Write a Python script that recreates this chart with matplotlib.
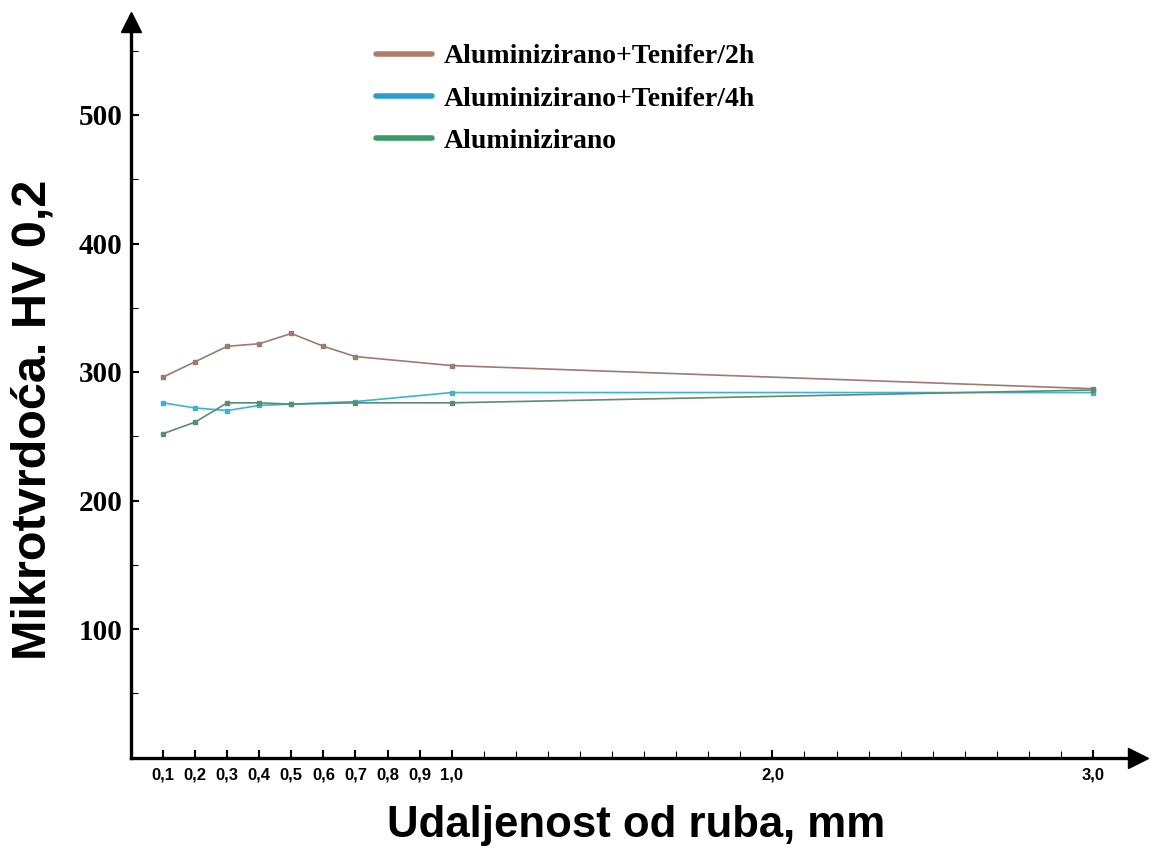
import matplotlib.pyplot as plt
from matplotlib.lines import Line2D

# --------------------------------------------------------------
# Data
# --------------------------------------------------------------
x_2h = [0.1, 0.2, 0.3, 0.4, 0.5, 0.6, 0.7, 1.0, 3.0]
hv_2h = [296, 308, 320, 322, 330, 320, 312, 305, 287]

x_4h = [0.1, 0.2, 0.3, 0.4, 0.5, 0.7, 1.0, 3.0]
hv_4h = [276, 272, 270, 274, 275, 277, 284, 284]

x_al = [0.1, 0.2, 0.3, 0.4, 0.5, 0.7, 1.0, 3.0]
hv_al = [252, 261, 276, 276, 275, 276, 276, 286]

labels = ["Aluminizirano+Tenifer/2h", "Aluminizirano+Tenifer/4h", "Aluminizirano"]
line_colors = ["#9c7b70", "#3fb3cc", "#5b8c74"]
legend_colors = ["#b07c6c", "#2b9ccf", "#3a9a68"]

major_x = [0.1, 0.2, 0.3, 0.4, 0.5, 0.6, 0.7, 0.8, 0.9, 1.0, 2.0, 3.0]
major_x_labels = ["0,1", "0,2", "0,3", "0,4", "0,5", "0,6", "0,7", "0,8", "0,9", "1,0", "2,0", "3,0"]
minor_x = [1.1, 1.2, 1.3, 1.4, 1.5, 1.6, 1.7, 1.8, 1.9,
           2.1, 2.2, 2.3, 2.4, 2.5, 2.6, 2.7, 2.8, 2.9]
major_y = [100, 200, 300, 400, 500]
minor_y = [50, 150, 250, 350, 450, 550]

# --------------------------------------------------------------
# Figure
# --------------------------------------------------------------
W, H = 1152, 852
fig = plt.figure(figsize=(W / 100, H / 100), dpi=100)
left, right, bottom, top = 131, 1138, 757.5, 22
ax = fig.add_axes([left / W, 1 - bottom / H, (right - left) / W, (bottom - top) / H])

ax.set_xlim(0, (right - left) / 320.7)
ax.set_ylim(0, (bottom - top) / 1.285)

for xs, ys, c in zip([x_2h, x_4h, x_al], [hv_2h, hv_4h, hv_al], line_colors):
    ax.plot(xs, ys, color=c, lw=1.2, marker="s", ms=3.5, mfc=c, mec=c)

# axes look: only left / bottom, thick, with arrow heads
for s in ["top", "right"]:
    ax.spines[s].set_visible(False)
for s in ["left", "bottom"]:
    ax.spines[s].set_linewidth(2.4)
ax.plot(1.0, 0, marker=">", ms=14, color="black", transform=ax.transAxes, clip_on=False)
ax.plot(0, 1.0, marker="^", ms=14, color="black", transform=ax.transAxes, clip_on=False)

ax.set_xticks(major_x)
ax.set_xticklabels(major_x_labels, fontfamily="Liberation Sans", fontweight="bold", fontsize=12)
ax.set_xticks(minor_x, minor=True)
ax.set_yticks(major_y)
ax.set_yticklabels([str(v) for v in major_y], fontfamily="Liberation Serif",
                   fontweight="bold", fontsize=21)
ax.set_yticks(minor_y, minor=True)
ax.tick_params(axis="both", which="major", direction="in", length=6, width=1.5)
ax.tick_params(axis="both", which="minor", direction="in", length=5, width=0.8)
ax.tick_params(axis="x", which="major", pad=7)
ax.tick_params(axis="y", which="major", pad=6)

fig.text(33 / W, 1 - 420 / H, "Mikrotvrdoća. HV 0,2", rotation=90, ha="center", va="center",
         fontfamily="Liberation Sans", fontweight="bold", fontsize=35)
fig.text(636 / W, 1 - 826 / H, "Udaljenost od ruba, mm", ha="center", va="center",
         fontfamily="Liberation Sans", fontweight="bold", fontsize=31.5)

handles = [Line2D([0], [0], color=c, lw=4, solid_capstyle="round") for c in legend_colors]
ax.legend(handles, labels, loc="upper left", bbox_to_anchor=(351 / W, 1 - 19 / H),
          bbox_transform=fig.transFigure, frameon=False, handlelength=2.0,
          handletextpad=0.45, labelspacing=0.6,
          prop={"family": "Liberation Serif", "weight": "bold", "size": 20})

fig.savefig("out.png", dpi=100)
